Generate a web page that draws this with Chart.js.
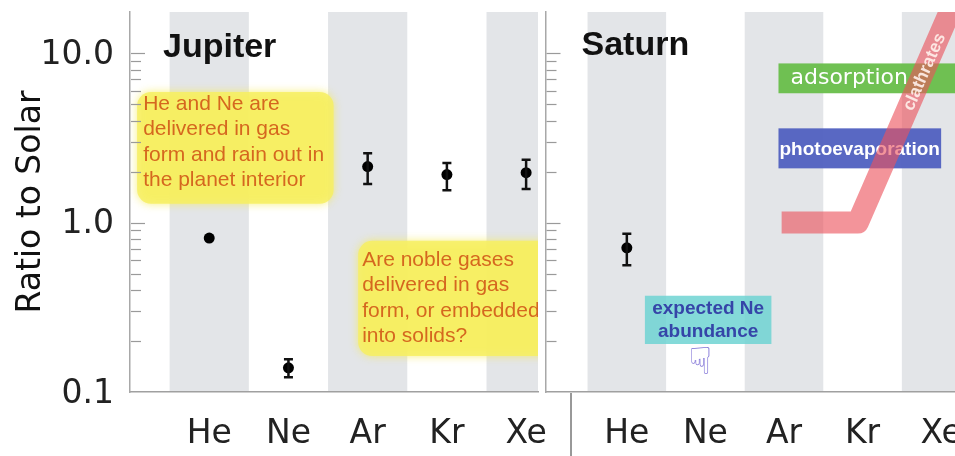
<!DOCTYPE html>
<html>
<head>
<meta charset="utf-8">
<script src="https://cdn.jsdelivr.net/npm/chart.js@4"></script>
<style>
  body { margin: 0; background: #fff; width: 955px; height: 456px; overflow: hidden; position: relative; }
  canvas { position: absolute; top: 0; }
  #jupiter { left: 0; }
  #saturn { left: 540px; }
</style>
</head>
<body>
<canvas id="jupiter" width="565" height="456"></canvas>
<canvas id="saturn" width="440" height="456"></canvas>
<script>
// noble gases, ratio to solar
var elements = ['He', 'Ne', 'Ar', 'Kr', 'Xe'];
var shaded = ['He', 'Ar', 'Xe'];
var yTickValues = [0.1, 1, 10];

var jupiterRatio = [0.81, 0.139, 2.14, 1.92, 1.97];
var jupiterLow   = [null, 0.122, 1.69, 1.55, 1.58];
var jupiterHigh  = [null, 0.156, 2.57, 2.25, 2.35];

var saturnRatio = [0.71, null, null, null, null];
var saturnLow   = [0.56, null, null, null, null];
var saturnHigh  = [0.86, null, null, null, null];

// Saturn formation scenarios (element position / ratio)
var clathrateX  = [2.97, 3.94, 5.12];
var clathrateY  = [1.0, 1.0, 18];
var adsorptionX = [2.93, 5.4];
var adsorptionY = [5.8, 8.7];
var photoevapX  = [2.93, 5.0];
var photoevapY  = [2.09, 3.6];

// notes in data coordinates
var jupiterNotes = [
  { x0: 0.09, x1: 2.57, top: 5.9, bottom: 1.29, pad: 6, first: 18,
    lines: ['He and Ne are', 'delivered in gas', 'form and rain out in', 'the planet interior'] },
  { x0: 2.88, x1: 5.4, top: 0.78, bottom: 0.163, pad: 4, first: 25,
    lines: ['Are noble gases', 'delivered in gas', 'form, or embedded', 'into solids?'] }
];
var neBox = { x0: 1.23, x1: 2.84, top: 0.37, bottom: 0.192 };

var tickFont = { family: 'DejaVu Sans', size: 33 };

function points(vals) {
  var out = [];
  vals.forEach(function (v, i) { if (v != null) out.push({ x: i + 1, y: v }); });
  return out;
}

function makeOptions(xMin, xMax, yWidth, showY, padRight) {
  return {
    responsive: false,
    animation: false,
    layout: { padding: { top: 12, right: padRight, left: 0, bottom: 0 } },
    plugins: { legend: { display: false }, tooltip: { enabled: false } },
    scales: {
      x: {
        type: 'linear', min: xMin, max: xMax,
        grid: { display: false, drawTicks: false },
        border: { display: true, color: '#a0a0a0', width: 1.5 },
        afterBuildTicks: function (s) { s.ticks = elements.map(function (e, i) { return { value: i + 1 }; }); },
        afterFit: function (s) { s.height = 64; s.paddingLeft = 0; s.paddingRight = 0; },
        ticks: {
          autoSkip: false, maxRotation: 0, padding: 23, color: '#222', font: tickFont,
          callback: function (v) { return elements[v - 1] || ''; }
        }
      },
      y: {
        type: 'logarithmic', min: 0.1, max: 17.5,
        grid: { display: false, drawTicks: false },
        border: { display: true, color: '#a8a8a8', width: 1.5 },
        afterBuildTicks: function (s) { s.ticks = yTickValues.map(function (v) { return { value: v }; }); },
        afterFit: function (s) { s.width = yWidth; s.paddingTop = 0; s.paddingBottom = 0; },
        title: {
          display: showY, text: 'Ratio to Solar', color: '#111',
          font: { family: 'DejaVu Sans', size: 33 }, padding: { top: 12, bottom: 0 }
        },
        ticks: {
          display: showY, padding: 16, color: '#222', font: tickFont, labelOffset: 2,
          callback: function (v) { return Number(v).toFixed(1); }
        }
      }
    }
  };
}

// grey columns behind the alternate elements
var bandsPlugin = {
  id: 'bands',
  beforeDraw: function (chart) {
    var ctx = chart.ctx, a = chart.chartArea, x = chart.scales.x;
    ctx.save();
    ctx.fillStyle = '#e3e5e8';
    shaded.forEach(function (n) {
      var i = elements.indexOf(n) + 1;
      var l = Math.max(a.left, x.getPixelForValue(i - 0.5));
      var r = Math.min(a.right, x.getPixelForValue(i + 0.5));
      ctx.fillRect(l, a.top, r - l, a.bottom - a.top);
    });
    ctx.restore();
  },
  afterDraw: function (chart) {
    // log minor ticks on the inside of the y axis
    var ctx = chart.ctx, a = chart.chartArea, y = chart.scales.y;
    ctx.save();
    ctx.strokeStyle = '#9a9a9a';
    ctx.lineWidth = 1.2;
    [0.1, 1, 10].forEach(function (d) {
      for (var m = 1; m <= 9; m++) {
        var v = d * m;
        if (v <= 0.1 || v > 17.5) continue;
        var py = Math.round(y.getPixelForValue(v)) + 0.5;
        ctx.beginPath();
        ctx.moveTo(a.left + 1, py);
        ctx.lineTo(a.left + (m === 1 ? 15 : 11), py);
        ctx.stroke();
      }
    });
    ctx.restore();
  }
};

function errorBarsPlugin(low, high) {
  return {
    id: 'errorBars',
    afterDatasetsDraw: function (chart) {
      var ctx = chart.ctx, x = chart.scales.x, y = chart.scales.y;
      ctx.save();
      ctx.strokeStyle = '#111';
      ctx.lineWidth = 2.5;
      low.forEach(function (lo, i) {
        if (lo == null) return;
        var px = x.getPixelForValue(i + 1);
        var y0 = y.getPixelForValue(lo), y1 = y.getPixelForValue(high[i]);
        ctx.beginPath();
        ctx.moveTo(px, y0); ctx.lineTo(px, y1);
        ctx.moveTo(px - 4.5, y0); ctx.lineTo(px + 4.5, y0);
        ctx.moveTo(px - 4.5, y1); ctx.lineTo(px + 4.5, y1);
        ctx.stroke();
      });
      ctx.restore();
    }
  };
}

function titlePlugin(text, dx, baseline) {
  return {
    id: 'panelTitle',
    afterDraw: function (chart) {
      var ctx = chart.ctx;
      ctx.save();
      ctx.font = 'bold 34px "Liberation Sans"';
      ctx.fillStyle = '#111';
      ctx.textBaseline = 'alphabetic';
      ctx.fillText(text, chart.chartArea.left + dx, baseline);
      ctx.restore();
    }
  };
}

var jupiterNotesPlugin = {
  id: 'notes',
  beforeDatasetsDraw: function (chart) {
    var ctx = chart.ctx, a = chart.chartArea, x = chart.scales.x, y = chart.scales.y;
    ctx.save();
    ctx.beginPath();
    ctx.rect(a.left, a.top, a.right - a.left, a.bottom - a.top);
    ctx.clip();
    jupiterNotes.forEach(function (n) {
      var l = x.getPixelForValue(n.x0), r = x.getPixelForValue(n.x1);
      var t = y.getPixelForValue(n.top), b = y.getPixelForValue(n.bottom);
      ctx.save();
      ctx.shadowColor = 'rgba(245,235,80,0.9)';
      ctx.shadowBlur = 8;
      ctx.fillStyle = 'rgba(247,239,95,0.82)';
      ctx.beginPath();
      ctx.roundRect(l, t, r - l, b - t, 14);
      ctx.fill();
      ctx.restore();
      ctx.fillStyle = '#d5671f';
      ctx.font = '21px "Liberation Sans"';
      ctx.textBaseline = 'alphabetic';
      n.lines.forEach(function (s, k) {
        ctx.fillText(s, l + n.pad, t + n.first + k * 25.5);
      });
    });
    ctx.restore();
  }
};

var saturnModelsPlugin = {
  id: 'models',
  beforeDatasetsDraw: function (chart) {
    var ctx = chart.ctx, a = chart.chartArea, x = chart.scales.x, y = chart.scales.y;
    ctx.save();
    ctx.beginPath();
    ctx.rect(a.left, a.top, a.right - a.left, a.bottom - a.top);
    ctx.clip();

    // adsorption
    var l = x.getPixelForValue(adsorptionX[0]), r = x.getPixelForValue(adsorptionX[1]);
    var t = y.getPixelForValue(adsorptionY[1]), b = y.getPixelForValue(adsorptionY[0]);
    ctx.fillStyle = 'rgba(104,190,74,0.95)';
    ctx.fillRect(l, t, r - l, b - t);
    ctx.fillStyle = '#fff';
    ctx.font = '22px "DejaVu Sans"';
    ctx.textBaseline = 'middle';
    ctx.fillText('adsorption', l + 12, (t + b) / 2);

    // photoevaporation
    l = x.getPixelForValue(photoevapX[0]); r = x.getPixelForValue(photoevapX[1]);
    t = y.getPixelForValue(photoevapY[1]); b = y.getPixelForValue(photoevapY[0]);
    ctx.fillStyle = 'rgba(80,96,192,0.95)';
    ctx.fillRect(l, t, r - l, b - t);
    ctx.fillStyle = '#fff';
    ctx.font = 'bold 19px "Liberation Sans"';
    ctx.fillText('photoevaporation', l + 1, (t + b) / 2 + 1);

    // expected Ne
    l = x.getPixelForValue(neBox.x0); r = x.getPixelForValue(neBox.x1);
    t = y.getPixelForValue(neBox.top); b = y.getPixelForValue(neBox.bottom);
    ctx.fillStyle = 'rgba(110,212,210,0.85)';
    ctx.fillRect(l, t, r - l, b - t);
    ctx.fillStyle = '#3545a8';
    ctx.font = 'bold 19px "Liberation Sans"';
    ctx.textAlign = 'center';
    ctx.fillText('expected Ne', (l + r) / 2, t + 13);
    ctx.fillText('abundance', (l + r) / 2, t + 36);
    ctx.fillStyle = '#7d6fd6';
    ctx.font = '38px "DejaVu Sans"';
    ctx.fillText('\u261F', (l + r) / 2 - 8, b + 20);
    ctx.restore();
  },
  afterDatasetsDraw: function (chart) {
    var ctx = chart.ctx, x = chart.scales.x, y = chart.scales.y, a = chart.chartArea;
    var x1 = x.getPixelForValue(clathrateX[1]), y1 = y.getPixelForValue(clathrateY[1]);
    var x2 = x.getPixelForValue(clathrateX[2]), y2 = y.getPixelForValue(clathrateY[2]);
    var ang = Math.atan2(y2 - y1, x2 - x1);
    var f = 0.71;
    ctx.save();
    ctx.translate(x1 + (x2 - x1) * f, y1 + (y2 - y1) * f);
    ctx.rotate(ang);
    ctx.fillStyle = 'rgba(255,240,235,0.9)';
    ctx.font = 'bold 17.5px "Liberation Sans"';
    ctx.textAlign = 'center';
    ctx.textBaseline = 'middle';
    ctx.fillText('clathrates', 0, 1);
    ctx.restore();

    // separator under the axis between the two panels
    ctx.save();
    ctx.strokeStyle = '#333';
    ctx.lineWidth = 1;
    ctx.beginPath();
    ctx.moveTo(a.left + 25.5, a.bottom + 1);
    ctx.lineTo(a.left + 25.5, chart.height);
    ctx.stroke();
    ctx.restore();
  }
};

var dotStyle = { pointRadius: 5.5, pointBackgroundColor: '#000', pointBorderWidth: 0, showLine: false };

new Chart(document.getElementById('jupiter').getContext('2d'), {
  type: 'scatter',
  data: {
    datasets: [Object.assign({ label: 'Jupiter', data: points(jupiterRatio) }, dotStyle)]
  },
  options: makeOptions(0, 5.15, 130, true, 27),
  plugins: [bandsPlugin, jupiterNotesPlugin, errorBarsPlugin(jupiterLow, jupiterHigh), titlePlugin('Jupiter', 33, 57)]
});

new Chart(document.getElementById('saturn').getContext('2d'), {
  type: 'scatter',
  data: {
    datasets: [
      Object.assign({ label: 'Saturn', data: points(saturnRatio) }, dotStyle),
      {
        label: 'clathrates',
        data: clathrateX.map(function (v, i) { return { x: v, y: clathrateY[i] }; }),
        showLine: true, pointRadius: 0, borderWidth: 22, tension: 0,
        borderColor: 'rgba(236,82,92,0.62)', borderJoinStyle: 'round', borderCapStyle: 'butt'
      }
    ]
  },
  options: makeOptions(-0.035, 5.24, 2, false, 20),
  plugins: [bandsPlugin, saturnModelsPlugin, errorBarsPlugin(saturnLow, saturnHigh), titlePlugin('Saturn', 36, 55)]
});
</script>
</body>
</html>
